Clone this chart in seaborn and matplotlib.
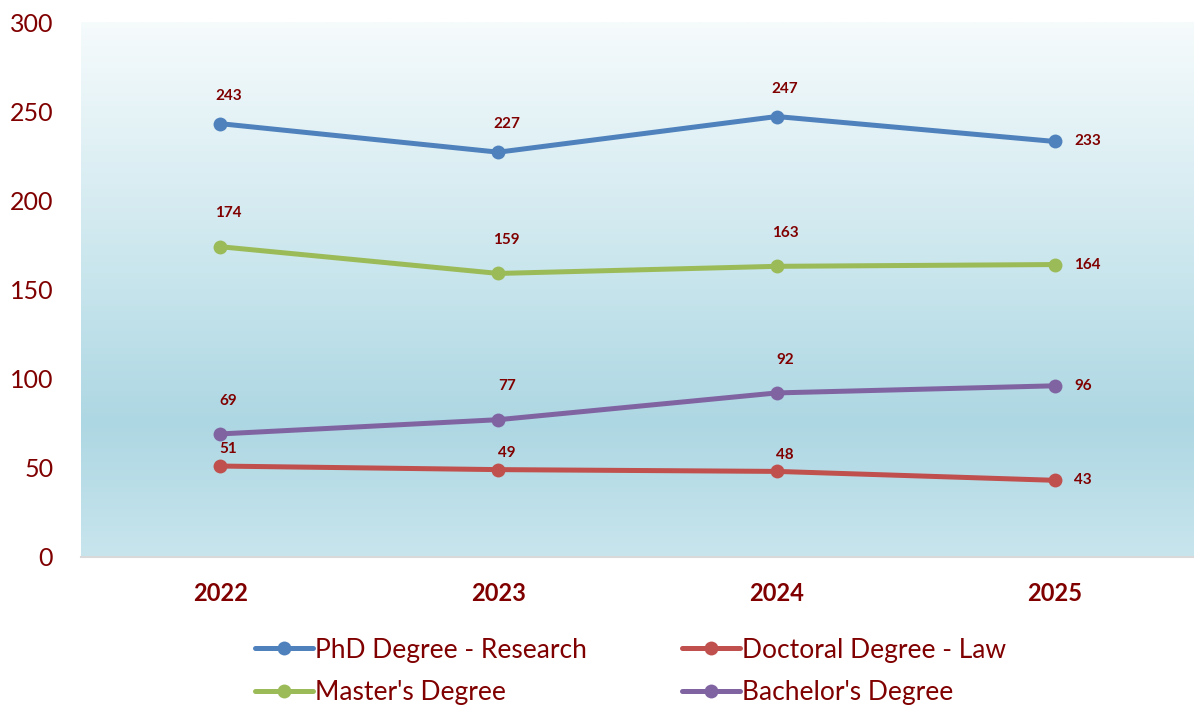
import numpy as np
import pandas as pd
import matplotlib
matplotlib.use("Agg")
import matplotlib.pyplot as plt
from matplotlib.colors import LinearSegmentedColormap
import seaborn as sns

# 데이터
years = ["2022", "2023", "2024", "2025"]
series_names = ["PhD Degree - Research", "Doctoral Degree - Law", "Master's Degree", "Bachelor's Degree"]
phd_research = [243, 227, 247, 233]
doctoral_law = [51, 49, 48, 43]
masters = [174, 159, 163, 164]
bachelors = [69, 77, 92, 96]

series_values = [phd_research, doctoral_law, masters, bachelors]
colors = ["#4F81BD", "#C0504D", "#9BBB59", "#8064A2"]
text_color = "#800000"

rows = []
for name, vals in zip(series_names, series_values):
    for y, v in zip(years, vals):
        rows.append({"year": y, "value": v, "series": name})
df = pd.DataFrame(rows)

sns.set_style("white")
plt.rcParams['font.family'] = ['Lato', 'DejaVu Sans']

fig = plt.figure(figsize=(11.94, 7.08), dpi=100)
ax = fig.add_axes([81 / 1194, 1 - 557 / 708, 1 - 81 / 1194, (557 - 22) / 708])

# 배경 그라데이션
grad_cmap = LinearSegmentedColormap.from_list(
    "bg", [(0.0, "#C8E5ED"), (0.25, "#ADD7E3"), (0.5, "#C6E4EC"), (1.0, "#F6FBFC")])
grad = np.linspace(0, 1, 256).reshape(-1, 1)
ax.imshow(grad, extent=(-0.5, 3.5, 0, 300), origin="lower", aspect="auto",
          cmap=grad_cmap, zorder=0)

sns.lineplot(data=df, x="year", y="value", hue="series", hue_order=series_names,
             palette=colors, marker="o", markersize=10, markeredgewidth=0,
             linewidth=3.6, ax=ax, legend=False, zorder=3)

# 데이터 레이블
label_offsets = [20, 12, 24, 24]
for name, vals, off in zip(series_names, series_values, label_offsets):
    for i, v in enumerate(vals):
        if i == len(vals) - 1:
            ax.annotate(str(v), (i, v), xytext=(14, 0), textcoords="offset points",
                        ha="left", va="center", fontsize=11, fontweight="bold",
                        color=text_color, zorder=5)
        else:
            ax.annotate(str(v), (i, v), xytext=(6, off), textcoords="offset points",
                        ha="center", va="center", fontsize=11, fontweight="bold",
                        color=text_color, zorder=5)

ax.set_xlim(-0.5, 3.5)
ax.set_ylim(0, 300)
ax.set_yticks(range(0, 301, 50))
ax.set_xticks(range(len(years)))
ax.set_xticklabels(years)
ax.set_xlabel("")
ax.set_ylabel("")
ax.tick_params(axis="y", length=0, pad=20, labelsize=18, labelcolor=text_color)
ax.tick_params(axis="x", length=0, pad=18, labelsize=17, labelcolor=text_color)
for lbl in ax.get_xticklabels():
    lbl.set_fontweight("bold")
for s in ["top", "right", "left"]:
    ax.spines[s].set_visible(False)
ax.spines["bottom"].set_color("#D9D9D9")
ax.spines["bottom"].set_linewidth(1.5)
ax.grid(False)

# 범례
handles = [plt.Line2D([], [], color=c, linewidth=3.6, marker="o", markersize=10,
                      markeredgewidth=0) for c in colors]
order = [0, 2, 1, 3]
leg = fig.legend([handles[i] for i in order], [series_names[i] for i in order],
                 ncol=2, loc="center", bbox_to_anchor=(0.528, 0.052), frameon=False,
                 fontsize=19, handlelength=2.2, handletextpad=0.08, columnspacing=3.6,
                 labelspacing=0.65)
for t in leg.get_texts():
    t.set_color(text_color)

fig.savefig("out.png", dpi=100)
